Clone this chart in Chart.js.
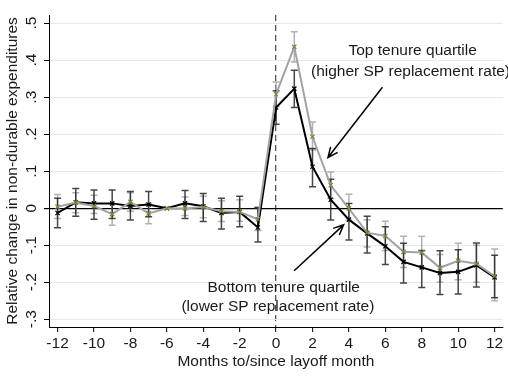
<!DOCTYPE html>
<html>
<head>
    <title>Non-durable expenditures around layoff</title>
    <script src="https://cdn.jsdelivr.net/npm/chart.js"></script>
    <style>
        body { margin: 0; background: #fff; }
        #wrap { width: 508px; height: 377px; }
    </style>
</head>
<body>
    <div id="wrap"><canvas id="chart" width="508" height="377"></canvas></div>

    <script>
    // months relative to the layoff month
    const months = [-12, -11, -10, -9, -8, -7, -6, -5, -4, -3, -2, -1, 0, 1, 2, 3, 4, 5, 6, 7, 8, 9, 10, 11, 12];

    // top tenure quartile (gray line)
    const topEst = [0.004, 0.015, 0.006, -0.016, 0.017, -0.014, 0, -0.001, 0.003, -0.008, -0.010, -0.030,
                    0.308, 0.436, 0.193, 0.062, -0.001, -0.066, -0.075, -0.118, -0.120, -0.161, -0.142, -0.150, -0.184];
    const topLo  = [-0.028, -0.012, -0.014, -0.046, -0.008, -0.042, null, -0.020, -0.026, -0.036, -0.035, -0.060,
                    0.275, 0.395, 0.157, 0.026, -0.032, -0.105, -0.114, -0.160, -0.160, -0.200, -0.193, -0.200, -0.250];
    const topHi  = [0.037, 0.042, 0.035, 0.013, 0.042, 0.013, null, 0.030, 0.032, 0.020, 0.023, 0.002,
                    0.341, 0.477, 0.233, 0.098, 0.038, -0.032, -0.035, -0.076, -0.076, -0.125, -0.095, -0.100, -0.110];

    // bottom tenure quartile (black line)
    const botEst = [-0.013, 0.016, 0.013, 0.013, 0.006, 0.010, 0, 0.013, 0.005, -0.013, -0.010, -0.052,
                    0.272, 0.323, 0.112, 0.023, -0.031, -0.068, -0.103, -0.145, -0.160, -0.175, -0.172, -0.154, -0.187];
    const botLo  = [-0.053, -0.022, -0.030, -0.028, -0.032, -0.023, null, -0.028, -0.036, -0.056, -0.050, -0.091,
                    0.227, 0.272, 0.058, -0.032, -0.086, -0.121, -0.152, -0.202, -0.214, -0.233, -0.232, -0.213, -0.242];
    const botHi  = [0.027, 0.053, 0.049, 0.049, 0.045, 0.045, null, 0.048, 0.040, 0.027, 0.032, 0.002,
                    0.317, 0.373, 0.161, 0.078, 0.013, -0.022, -0.050, -0.095, -0.114, -0.115, -0.112, -0.094, -0.127];

    const yTicks = [-0.3, -0.2, -0.1, 0, 0.1, 0.2, 0.3, 0.4, 0.5];

    // annotation text and arrows, in data units
    const notes = [
        { text: 'Top tenure quartile', x: 7.5, y: 0.425 },
        { text: '(higher SP replacement rate)', x: 7.38, y: 0.369 },
        { text: 'Bottom tenure quartile', x: 0.42, y: -0.215 },
        { text: '(lower SP replacement rate)', x: 0.1, y: -0.267 }
    ];
    const arrows = [
        { from: [5.84, 0.327], to: [2.85, 0.137] },
        { from: [0.99, -0.169], to: [3.71, -0.045] }
    ];

    const FONT = '"Liberation Sans", Arial, sans-serif';
    const SIZE = 15.5;

    function pts(vals) {
        return months.map((m, i) => ({ x: m, y: vals[i] }));
    }

    function fmtY(v) {
        if (Math.abs(v) < 1e-9) return '0';
        return v.toFixed(1).replace('0.', '.');
    }

    // confidence bands as capped vertical bars, plus the text notes and arrows
    const errorBars = {
        id: 'errorBars',
        beforeDatasetsDraw(chart) {
            const { ctx, scales: { x, y } } = chart;
            const sets = [
                [topLo, topHi, 'rgba(170,170,170,0.9)'],
                [botLo, botHi, 'rgba(25,25,25,0.8)']
            ];
            ctx.save();
            ctx.lineWidth = 1.5;
            sets.forEach(([lo, hi, color]) => {
                ctx.strokeStyle = color;
                months.forEach((m, i) => {
                    if (lo[i] === null) return;
                    const px = x.getPixelForValue(m);
                    const y1 = y.getPixelForValue(lo[i]);
                    const y2 = y.getPixelForValue(hi[i]);
                    ctx.beginPath();
                    ctx.moveTo(px, y1); ctx.lineTo(px, y2);
                    ctx.moveTo(px - 3.5, y1); ctx.lineTo(px + 3.5, y1);
                    ctx.moveTo(px - 3.5, y2); ctx.lineTo(px + 3.5, y2);
                    ctx.stroke();
                });
            });
            ctx.restore();
        },
        afterDatasetsDraw(chart) {
            const { ctx, scales: { x, y } } = chart;
            ctx.save();
            ctx.fillStyle = '#1a1a1a';
            ctx.font = SIZE + 'px ' + FONT;
            ctx.textAlign = 'center';
            ctx.textBaseline = 'middle';
            notes.forEach(n => ctx.fillText(n.text, x.getPixelForValue(n.x), y.getPixelForValue(n.y)));

            ctx.strokeStyle = '#000';
            ctx.lineWidth = 1.5;
            arrows.forEach(a => {
                const x1 = x.getPixelForValue(a.from[0]), y1 = y.getPixelForValue(a.from[1]);
                const x2 = x.getPixelForValue(a.to[0]), y2 = y.getPixelForValue(a.to[1]);
                const ang = Math.atan2(y2 - y1, x2 - x1);
                const head = 11, spread = 0.42;
                ctx.beginPath();
                ctx.moveTo(x1, y1); ctx.lineTo(x2, y2);
                ctx.moveTo(x2 - head * Math.cos(ang - spread), y2 - head * Math.sin(ang - spread));
                ctx.lineTo(x2, y2);
                ctx.lineTo(x2 - head * Math.cos(ang + spread), y2 - head * Math.sin(ang + spread));
                ctx.stroke();
            });
            ctx.restore();
        }
    };

    const chart = new Chart(document.getElementById('chart').getContext('2d'), {
        type: 'scatter',
        data: {
            datasets: [{
                label: 'Top tenure quartile',
                data: pts(topEst),
                showLine: true,
                borderColor: '#a3a3a3',
                borderWidth: 2,
                pointStyle: 'crossRot',
                pointRadius: 3,
                pointBorderWidth: 1.2,
                pointBorderColor: '#6b8a3a',
                pointBackgroundColor: '#6b8a3a'
            }, {
                label: 'Bottom tenure quartile',
                data: pts(botEst),
                showLine: true,
                borderColor: '#000',
                borderWidth: 2,
                pointStyle: 'crossRot',
                pointRadius: 3,
                pointBorderWidth: 1.2,
                pointBorderColor: '#000',
                pointBackgroundColor: '#000'
            }]
        },
        options: {
            responsive: false,
            animation: false,
            layout: { padding: { top: 15, right: 2, left: 0, bottom: 0 } },
            plugins: { legend: { display: false }, tooltip: { enabled: false } },
            scales: {
                x: {
                    type: 'linear',
                    min: -12.47,
                    max: 12.45,
                    afterFit: s => { s.height = 50; },
                    ticks: {
                        stepSize: 2,
                        includeBounds: false,
                        color: '#1a1a1a',
                        padding: 2,
                        maxRotation: 0,
                        font: { family: FONT, size: SIZE }
                    },
                    grid: {
                        // only the layoff month gets a line across the plot
                        color: c => c.tick && c.tick.value === 0 ? '#555' : 'rgba(0,0,0,0)',
                        lineWidth: 1.3,
                        tickLength: 5,
                        tickColor: '#000',
                        tickWidth: 1
                    },
                    border: { display: true, color: '#000', width: 1, dash: [6, 4] },
                    title: {
                        display: true,
                        text: 'Months to/since layoff month',
                        color: '#1a1a1a',
                        font: { family: FONT, size: SIZE },
                        padding: { top: 0, bottom: 6 }
                    }
                },
                y: {
                    min: -0.321,
                    max: 0.522,
                    afterFit: s => { s.width = 49; },
                    afterBuildTicks: s => { s.ticks = yTicks.map(v => ({ value: v })); },
                    ticks: {
                        includeBounds: false,
                        minRotation: 90,
                        maxRotation: 90,
                        crossAlign: 'center',
                        padding: 3,
                        color: '#1a1a1a',
                        font: { family: FONT, size: SIZE },
                        callback: v => fmtY(v)
                    },
                    grid: {
                        color: c => c.tick && Math.abs(c.tick.value) < 1e-9 ? '#000' : '#e3ebeb',
                        lineWidth: c => c.tick && Math.abs(c.tick.value) < 1e-9 ? 1.2 : 1,
                        tickLength: 5,
                        tickColor: '#000'
                    },
                    border: { display: true, color: '#000', width: 1 },
                    title: {
                        display: true,
                        text: 'Relative change in non-durable expenditures',
                        color: '#1a1a1a',
                        font: { family: FONT, size: SIZE },
                        padding: { top: 3, bottom: 0 }
                    }
                }
            }
        },
        plugins: [errorBars]
    });
    </script>
</body>
</html>
